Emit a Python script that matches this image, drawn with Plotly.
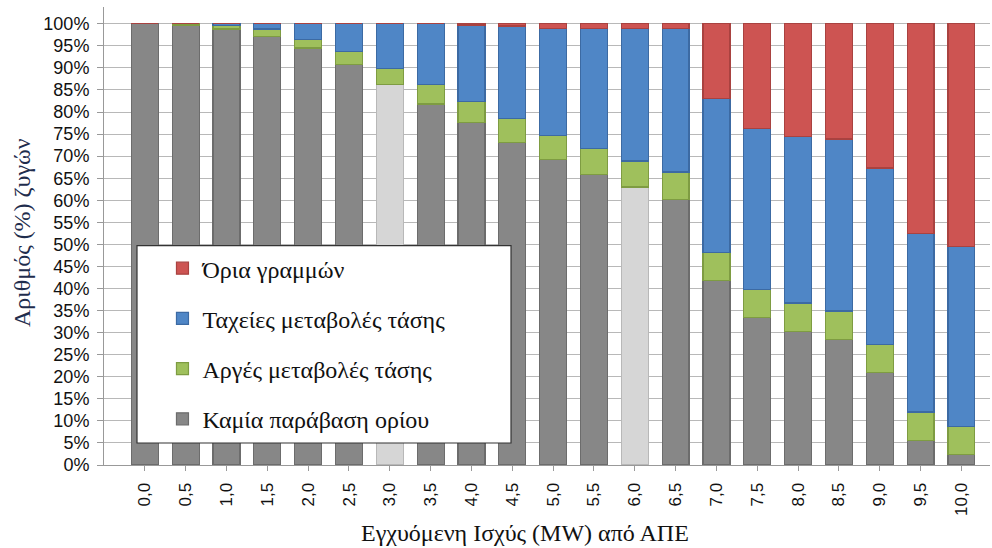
import plotly.graph_objects as go

categories = ["0,0", "0,5", "1,0", "1,5", "2,0", "2,5", "3,0", "3,5", "4,0", "4,5", "5,0",
              "5,5", "6,0", "6,5", "7,0", "7,5", "8,0", "8,5", "9,0", "9,5", "10,0"]

# fractions of buses (stacked, sum = 1)
no_violation = [1.000, 0.997, 0.988, 0.971, 0.945, 0.907, 0.862, 0.818, 0.776, 0.731, 0.692,
                0.658, 0.630, 0.602, 0.418, 0.335, 0.302, 0.285, 0.209, 0.055, 0.024]
slow_voltage = [0.000, 0.003, 0.008, 0.017, 0.020, 0.030, 0.036, 0.045, 0.048, 0.054, 0.055,
                0.059, 0.059, 0.062, 0.063, 0.063, 0.065, 0.064, 0.065, 0.065, 0.064]
fast_voltage = [0.000, 0.000, 0.004, 0.012, 0.035, 0.063, 0.102, 0.137, 0.173, 0.210, 0.243,
                0.272, 0.300, 0.325, 0.349, 0.365, 0.377, 0.390, 0.399, 0.405, 0.407]
line_limits = [0.000, 0.000, 0.000, 0.000, 0.000, 0.000, 0.000, 0.000, 0.003, 0.005, 0.010,
               0.011, 0.011, 0.011, 0.170, 0.237, 0.256, 0.261, 0.327, 0.475, 0.505]

names = ["Καμία παράβαση ορίου", "Αργές μεταβολές τάσης", "Ταχείες μεταβολές τάσης", "Όρια γραμμών"]
highlight = ["3,0", "6,0"]

gray_colors = ["#D6D6D6" if c in highlight else "#878787" for c in categories]
gray_lines = ["#B8B8B8" if c in highlight else "#6C6C6C" for c in categories]

series = [
    (names[0], no_violation, gray_colors, gray_lines),
    (names[1], slow_voltage, "#9FC05C", "#7E9C42"),
    (names[2], fast_voltage, "#4F86C6", "#3C6AA3"),
    (names[3], line_limits, "#CD5452", "#A94240"),
]

fig = go.Figure()
for i, (nm, vals, col, lcol) in enumerate(series):
    fig.add_trace(go.Bar(
        x=categories, y=vals, name=nm, width=0.66,
        marker=dict(color=col, line=dict(color=lcol, width=1.2)),
        legendgroup=f"g{i}", legendrank=4 - i,
    ))

serif = "Liberation Serif, Times New Roman, serif"
sans = "Liberation Sans, Arial, sans-serif"

fig.update_layout(
    barmode="stack",
    width=992, height=548,
    margin=dict(l=104, r=2, t=7, b=83),
    paper_bgcolor="white", plot_bgcolor="white",
    showlegend=True,
    legend=dict(
        x=0.066, y=0.478, xanchor="left", yanchor="top",
        yref="paper",
        traceorder="grouped", tracegroupgap=16,
        bgcolor="rgba(0,0,0,0)", borderwidth=0,
        font=dict(family=serif, size=24, color="#111111"),
    ),
    xaxis=dict(
        type="category", range=[-1, 20.7],
        tickangle=-90, ticks="outside", ticklen=5, tickcolor="#999999",
        showline=True, linecolor="#999999", linewidth=1,
        showgrid=False,
        tickfont=dict(family=sans, size=17, color="#111111"),
        ticklabelstandoff=5,
    ),
    yaxis=dict(
        range=[0, 1.038], dtick=0.05, tickformat=".0%",
        ticks="outside", ticklen=6, tickcolor="#999999",
        showline=True, linecolor="#999999", linewidth=1,
        showgrid=True, gridcolor="#B8B8B8", gridwidth=1,
        zeroline=False,
        tickfont=dict(family=sans, size=18, color="#111111"),
        ticklabelstandoff=4,
    ),
    shapes=[dict(
        type="rect", xref="paper", yref="y",
        x0=(137 - 104) / 886, x1=(511 - 104) / 886,
        y0=(465 - 443) / 441, y1=(465 - 245.7) / 441,
        fillcolor="white", line=dict(color="#333333", width=1.2), layer="above",
    )],
    annotations=[
        dict(text="Εγχυόμενη Ισχύς (MW) από ΑΠΕ", xref="paper", yref="paper",
             x=(525 - 104) / 886, y=(465 - 533) / 458, xanchor="center", yanchor="middle",
             showarrow=False, font=dict(family=serif, size=24, color="#111111")),
        dict(text="Αριθμός (%) ζυγών", xref="paper", yref="paper",
             x=(22 - 104) / 886, y=(465 - 233) / 458, xanchor="center", yanchor="middle",
             textangle=-90, showarrow=False, font=dict(family=serif, size=24, color="#1F2D4D")),
    ],
)

fig.write_html("out.html")
